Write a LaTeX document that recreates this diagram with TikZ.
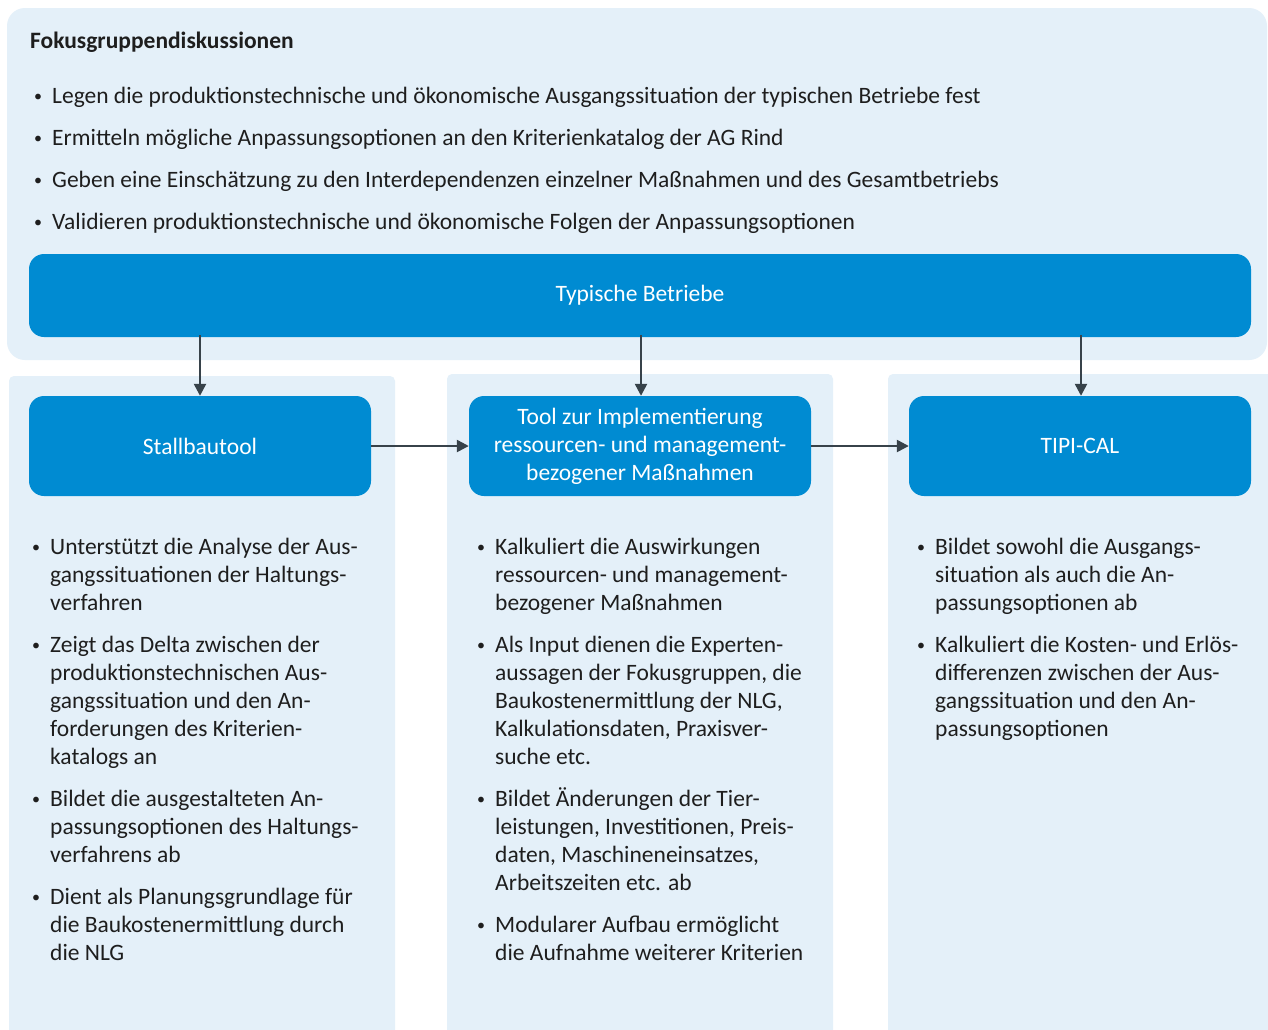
\documentclass[tikz,border=0pt]{standalone}
\usepackage{fontspec}
\setmainfont{Carlito}
\usetikzlibrary{arrows.meta}
\definecolor{panel}{RGB}{228,240,249}
\definecolor{boxblue}{RGB}{0,139,210}
\definecolor{arrowgray}{RGB}{55,66,74}
\definecolor{txt}{RGB}{30,30,30}
\newcommand\bul{\llap{\raisebox{1.5pt}{\fontsize{16}{16}\selectfont\textbullet}\hspace{10pt}}}
\tikzset{
  panelbox/.style={fill=panel, draw=none},
  bluebox/.style={fill=boxblue, draw=none, rounded corners=15pt, text=white,
    font=\fontsize{23.5}{28}\selectfont, align=center, inner sep=0pt},
  arr/.style={draw=arrowgray, line width=2.4pt, -{Triangle[length=12pt,width=12pt]}},
  bullets/.style={anchor=north west, inner sep=0pt, align=left, text=txt,
    font=\fontsize{23.5}{28}\selectfont},
  topline/.style={anchor=base west, inner sep=0pt, text=txt,
    font=\fontsize{23.5}{28}\selectfont},
}
\begin{document}
\begin{tikzpicture}[x=1pt,y=-1pt]
\useasboundingbox (0,0) rectangle (1268,1029);
\fill[white] (0,0) rectangle (1268,1029);
% panels
\fill[panelbox, rounded corners=18pt] (7,8) rectangle (1267,360);
\fill[panelbox, rounded corners=5pt] (9,376) rectangle (395,1040);
\fill[panelbox, rounded corners=5pt] (447,374) rectangle (833,1040);
\fill[panelbox, rounded corners=5pt] (888,374) rectangle (1280,1040);
% top text
\node[topline, font=\fontsize{23.5}{28}\selectfont\bfseries] (title) at (30,48) {Fokusgruppendiskussionen};
\node[topline] (t1) at (52,103) {\bul Legen die produktionstechnische und ökonomische Ausgangssituation der typischen Betriebe fest};
\node[topline] (t2) at (52,145) {\bul Ermitteln mögliche Anpassungsoptionen an den Kriterienkatalog der AG Rind};
\node[topline] (t3) at (52,187) {\bul Geben eine Einschätzung zu den Interdependenzen einzelner Maßnahmen und des Gesamtbetriebs};
\node[topline] (t4) at (52,229) {\bul Validieren produktionstechnische und ökonomische Folgen der Anpassungsoptionen};
% blue boxes
\node[bluebox, minimum width=1222pt, minimum height=83pt] (typ) at (640,295.5) {Typische Betriebe};
\node[bluebox, minimum width=342pt, minimum height=100pt] (stall) at (200,446) {Stallbautool};
\node[bluebox, minimum width=342pt, minimum height=100pt] (tool) at (640,446) {Tool zur Implementierung\\ressourcen- und management-\\bezogener Maßnahmen};
\node[bluebox, minimum width=342pt, minimum height=100pt] (tipi) at (1080,446) {TIPI-CAL};
% arrows
\draw[arr] ([yshift=2pt]stall.north |- typ.south) -- (stall.north);
\draw[arr] ([xshift=1pt,yshift=2pt]tool.north |- typ.south) -- ([xshift=1pt]tool.north);
\draw[arr] ([xshift=1pt,yshift=2pt]tipi.north |- typ.south) -- ([xshift=1pt]tipi.north);
\draw[arr] (stall.east) -- (tool.west);
\draw[arr] (tool.east) -- (tipi.west);
% column 1
\node[bullets] (a1) at (50,{554-19.6}) {\strut\bul Unterstützt die Analyse der Aus-\\gangssituationen der Haltungs-\\verfahren};
\node[bullets] (a2) at (50,{652-19.6}) {\strut\bul Zeigt das Delta zwischen der\\produktionstechnischen Aus-\\gangssituation und den An-\\forderungen des Kriterien-\\katalogs an};
\node[bullets] (a3) at (50,{806-19.6}) {\strut\bul Bildet die ausgestalteten An-\\passungsoptionen des Haltungs-\\verfahrens ab};
\node[bullets] (a4) at (50,{904-19.6}) {\strut\bul Dient als Planungsgrundlage für\\die Baukostenermittlung durch\\die NLG};
% column 2
\node[bullets] (b1) at (495,{554-19.6}) {\strut\bul Kalkuliert die Auswirkungen\\ressourcen- und management-\\bezogener Maßnahmen};
\node[bullets] (b2) at (495,{652-19.6}) {\strut\bul Als Input dienen die Experten-\\aussagen der Fokusgruppen, die\\Baukostenermittlung der NLG,\\Kalkulationsdaten, Praxisver-\\suche etc.};
\node[bullets] (b3) at (495,{806-19.6}) {\strut\bul Bildet Änderungen der Tier-\\leistungen, Investitionen, Preis-\\daten, Maschineneinsatzes,\\Arbeitszeiten etc. ab};
\node[bullets] (b4) at (495,{932-19.6}) {\strut\bul Modularer Aufbau ermöglicht\\die Aufnahme weiterer Kriterien};
% column 3
\node[bullets] (c1) at (935,{554-19.6}) {\strut\bul Bildet sowohl die Ausgangs-\\situation als auch die An-\\passungsoptionen ab};
\node[bullets] (c2) at (935,{652-19.6}) {\strut\bul Kalkuliert die Kosten- und Erlös-\\differenzen zwischen der Aus-\\gangssituation und den An-\\passungsoptionen};
\end{tikzpicture}
\end{document}
